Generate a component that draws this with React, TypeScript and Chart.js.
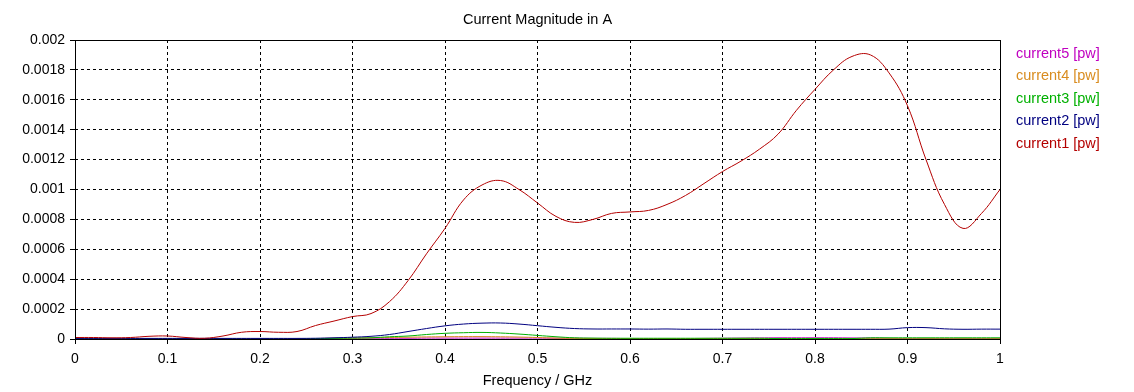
import React, { useEffect, useRef } from "react";
import { Chart, registerables } from "chart.js";

Chart.register(...registerables);

const freqGHz = [
  0.0, 0.02, 0.04, 0.06, 0.08, 0.1, 0.12, 0.14, 0.16, 0.18, 0.2, 0.22, 0.24, 0.26, 0.28, 0.3, 0.32, 0.34,
  0.36, 0.38, 0.4, 0.42, 0.44, 0.46, 0.48, 0.5, 0.52, 0.54, 0.56, 0.58, 0.6, 0.62, 0.64, 0.66, 0.68, 0.7,
  0.72, 0.74, 0.76, 0.78, 0.8, 0.82, 0.84, 0.86, 0.88, 0.9, 0.92, 0.94, 0.96, 0.98, 1.0,
];

const current1 = [
  0.00001, 0.00001, 0.000008, 0.00001, 0.000018, 0.00002, 0.00001, 0.000005, 0.00002, 0.000045, 0.00005,
  0.000045, 0.00005, 0.00009, 0.00012, 0.00015, 0.00017, 0.00025, 0.00039, 0.00057, 0.00074, 0.00093,
  0.00103, 0.00106, 0.001, 0.00091, 0.00082, 0.00078, 0.0008, 0.00084, 0.00085, 0.00086, 0.0009,
  0.00096, 0.00104, 0.00112, 0.00119, 0.00127, 0.00137, 0.00153, 0.00167, 0.0018, 0.00189, 0.0019,
  0.00178, 0.00156, 0.0012, 0.0009, 0.00074, 0.00084, 0.001,
];

const current2 = [
  0.000004, 0.000004, 0.000004, 0.000004, 0.000004, 0.000004, 0.000004, 0.000004, 0.000004, 0.000004,
  0.000004, 0.000004, 0.000004, 0.000005, 0.000008, 0.000012, 0.000018, 0.00003, 0.00005, 0.00007,
  0.000088, 0.0001, 0.000106, 0.000107, 0.0001, 0.000089, 0.000078, 0.00007, 0.000067, 0.000067,
  0.000067, 0.000066, 0.000067, 0.000065, 0.000065, 0.000065, 0.000065, 0.000065, 0.000065, 0.000065,
  0.000065, 0.000065, 0.000065, 0.000065, 0.000066, 0.000076, 0.000076, 0.000068, 0.000065, 0.000066,
  0.000066,
];

const current3 = [
  0, 0, 0, 0, 0, 0, 0, 0, 0, 0, 0, 0, 0, 0.000002, 0.000004, 0.000006, 0.000008, 0.000015, 0.00002,
  0.00003, 0.000038, 0.000042, 0.000044, 0.00004, 0.000033, 0.000024, 0.000015, 0.000008, 0.000006,
  0.000005, 0.000005, 0.000005, 0.000005, 0.000005, 0.000005, 0.000005, 0.000005, 0.000005, 0.000003,
  0.000003, 0.000003, 0.000003, 0.000003, 0.000008, 0.000008, 0.000008, 0.000008, 0.000008, 0.000008,
  0.000008, 0.000008,
];

const current4 = [
  0, 0, 0, 0, 0, 0, 0, 0, 0, 0, 0, 0, 0, 0.000003, 0.000005, 0.000006, 0.000008, 0.00001, 0.000012,
  0.000014, 0.000015, 0.000016, 0.000016, 0.000015, 0.000013, 0.00001, 0.000006, 0.000004, 0.000003,
  0.000002, 0.000002, 0.000002, 0.000002, 0.000002, 0.000002, 0.000002, 0.000002, 0.000002, 0.000002,
  0.000002, 0.000002, 0.000002, 0.000002, 0.000002, 0.000002, 0.000002, 0.000002, 0.000002, 0.000002,
  0.000002, 0.000002,
];

const current5 = [
  0.000002, 0.000002, 0.000002, 0.000002, 0.000002, 0.000002, 0.000002, 0.000002, 0.000002, 0.000002,
  0.000002, 0.000002, 0.000002, 0.000003, 0.000004, 0.000005, 0.000005, 0.000005, 0.000005, 0.000006,
  0.000006, 0.000006, 0.000006, 0.000006, 0.000006, 0.000006, 0.000005, 0.000005, 0.000004, 0.000004,
  0.000003, 0.000003, 0.000003, 0.000003, 0.000004, 0.000005, 0.000006, 0.000007, 0.000008, 0.000008,
  0.000008, 0.000008, 0.000007, 0.000006, 0.000004, 0.000003, 0.000003, 0.000003, 0.000003, 0.000003,
  0.000003,
];

const seriesNames = ["current1 [pw]", "current2 [pw]", "current3 [pw]", "current4 [pw]", "current5 [pw]"];
const seriesColors = ["#b40000", "#000080", "#00b000", "#d98c1f", "#c000c0"];
const seriesValues = [current1, current2, current3, current4, current5];

const xTicks = [0, 0.1, 0.2, 0.3, 0.4, 0.5, 0.6, 0.7, 0.8, 0.9, 1];
const yTicks = [0, 0.0002, 0.0004, 0.0006, 0.0008, 0.001, 0.0012, 0.0014, 0.0016, 0.0018, 0.002];

const FONT = "'Liberation Sans', Arial, sans-serif";

const framePlugin = {
  id: "frame",
  afterLayout(chart: any) {
    const tb = chart.titleBlock;
    if (tb) {
      tb.left = chart.chartArea.left;
      tb.right = chart.chartArea.right;
      tb.width = tb.right - tb.left;
    }
  },
  afterDatasetsDraw(chart: any) {
    const { ctx, chartArea } = chart;
    ctx.save();
    ctx.strokeStyle = "#000";
    ctx.lineWidth = 1;
    ctx.setLineDash([]);
    ctx.strokeRect(
      Math.round(chartArea.left) + 0.5,
      Math.round(chartArea.top) + 0.5,
      Math.round(chartArea.right - chartArea.left),
      Math.round(chartArea.bottom - chartArea.top)
    );
    ctx.restore();
  },
};

const legendPlugin = {
  id: "sideLegend",
  afterDraw(chart: any) {
    const { ctx, chartArea } = chart;
    const ds = chart.data.datasets;
    ctx.save();
    ctx.font = `14.5px ${FONT}`;
    ctx.textAlign = "left";
    ctx.textBaseline = "middle";
    const x = chartArea.right + 16;
    let y = chartArea.top + 14;
    for (let i = ds.length - 1; i >= 0; i--) {
      ctx.fillStyle = ds[i].borderColor;
      ctx.fillText(ds[i].label, x, y);
      y += 22.4;
    }
    ctx.restore();
  },
};

function fmt(v: number) {
  return String(Number(v.toFixed(5)));
}

export default function App() {
  const ref = useRef<HTMLCanvasElement | null>(null);

  useEffect(() => {
    document.body.style.margin = "0";
    const canvas = ref.current;
    if (!canvas) return;
    const datasets = seriesValues.map((vals, i) => ({
      label: seriesNames[i],
      data: freqGHz.map((f, j) => ({ x: f, y: vals[j] })),
      borderColor: seriesColors[i],
      backgroundColor: seriesColors[i],
      borderWidth: 1,
      pointRadius: 0,
      tension: 0.4,
      fill: false,
    }));
    const chart = new Chart(canvas, {
      type: "line",
      data: { datasets },
      plugins: [framePlugin, legendPlugin],
      options: {
        responsive: false,
        animation: false,
        events: [],
        layout: { padding: { left: 0, right: 134, top: 0, bottom: 0 } },
        plugins: {
          legend: { display: false },
          tooltip: { enabled: false },
          title: {
            display: true,
            text: "Current Magnitude in A",
            color: "#000",
            font: { family: FONT, size: 14.5, weight: "normal" },
            padding: { top: 10.8, bottom: 11.8 },
          },
        },
        scales: {
          x: {
            type: "linear",
            min: 0,
            max: 1,
            afterBuildTicks(scale: any) {
              scale.ticks = xTicks.map((v) => ({ value: v }));
            },
            afterFit(scale: any) {
              scale.height = 53;
            },
            ticks: {
              color: "#000",
              font: { family: FONT, size: 14 },
              padding: 7,
              maxRotation: 0,
              callback: (v: any) => fmt(Number(v)),
            },
            grid: {
              color: "#000",
              lineWidth: 1,
              tickLength: 5,
              tickBorderDash: [],
            },
            border: { display: false, dash: [3, 3] },
            title: {
              display: true,
              text: "Frequency / GHz",
              color: "#000",
              font: { family: FONT, size: 14.5 },
              padding: { top: 4, bottom: 2.5 },
            },
          },
          y: {
            type: "linear",
            min: 0,
            max: 0.002,
            afterBuildTicks(scale: any) {
              scale.ticks = yTicks.map((v) => ({ value: v }));
            },
            afterFit(scale: any) {
              scale.width = 75;
            },
            ticks: {
              color: "#000",
              font: { family: FONT, size: 14 },
              padding: 5,
              callback: (v: any) => fmt(Number(v)),
            },
            grid: {
              color: "#000",
              lineWidth: 1,
              tickLength: 5,
              tickBorderDash: [],
            },
            border: { display: false, dash: [3, 3] },
          },
        },
      } as any,
    });
    return () => chart.destroy();
  }, []);

  return (
    <div style={{ width: 1134, height: 392, background: "#fff" }}>
      <canvas ref={ref} width={1134} height={392} style={{ display: "block" }} />
    </div>
  );
}
